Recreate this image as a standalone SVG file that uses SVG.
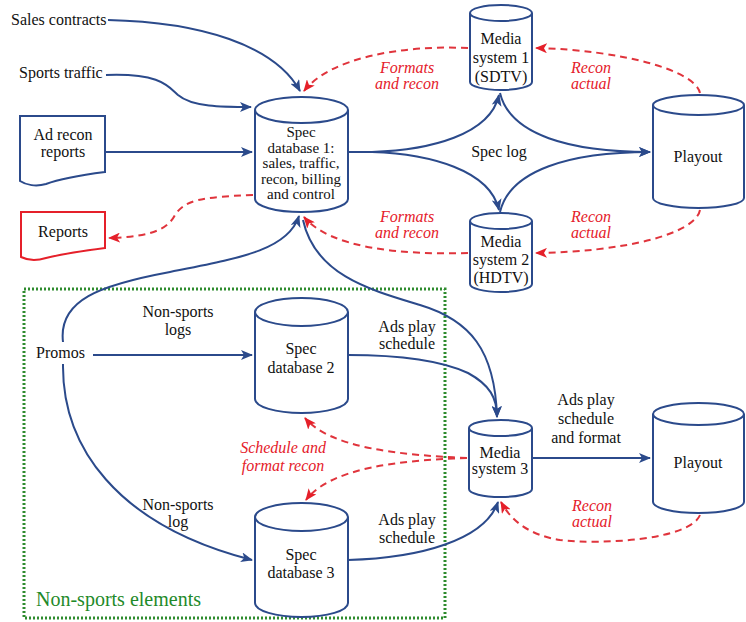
<svg xmlns="http://www.w3.org/2000/svg" width="746" height="622" viewBox="0 0 746 622">
<defs>
<marker id="ab" viewBox="0 0 12 10" refX="11" refY="5" markerWidth="12" markerHeight="10" markerUnits="userSpaceOnUse" orient="auto"><path d="M0,0 L12,5 L0,10 L3,5 z" fill="#2b4a8b"/></marker>
<marker id="ar" viewBox="0 0 12 10" refX="11" refY="5" markerWidth="12" markerHeight="10" markerUnits="userSpaceOnUse" orient="auto"><path d="M0,0 L12,5 L0,10 L3,5 z" fill="#e5202a"/></marker>
</defs>
<rect width="746" height="622" fill="#fff"/>
<rect id="nonsports" x="24" y="289" width="421" height="329" fill="none" stroke="#2e8b2e" stroke-width="3" stroke-dasharray="2 2"/>
<text font-family="Liberation Serif" font-size="20" fill="#1f8a2a" x="36" y="606">Non-sports elements</text>

<g id="connectors">
<g fill="none" stroke="#2b4a8b" stroke-width="2" marker-end="url(#ab)">
<path d="M108,20 C200,22 275,45 300,91"/>
<path d="M106,75 C160,73 168,86 178,95 C192,107 222,107 251,107"/>
<path d="M105,152 H252"/>
<path d="M348,152 H372 C430,150 490,135 499,95"/>
<path d="M348,152 H372 C430,154 490,170 499,210"/>
<path d="M500,93 C510,135 570,152 650,152"/>
<path d="M500,212 C510,170 570,152 650,152"/>
<path d="M63,342 C58,300 100,285 170,272 C240,258 288,250 299,216"/>
<path d="M303,220 C315,275 370,290 420,305 C470,320 495,350 497,417"/>
<path d="M348,355 C400,355 440,360 468,373 C490,385 497,398 497,417"/>
<path d="M93,355 H252"/>
<path d="M63,364 C62,445 115,525 252,560"/>
<path d="M348,560 C420,558 485,540 498,502"/>
<path d="M532,458 H650"/>
</g>
<g fill="none" stroke="#e0343c" stroke-width="2" stroke-dasharray="7 5" marker-end="url(#ar)">
<path d="M253,195 C200,197 185,200 175,215 C165,235 135,237 109,238"/>
<path d="M468,48 C400,45 330,58 304,91"/>
<path d="M700,93 C695,70 620,50 536,48"/>
<path d="M700,210 C695,235 620,252 536,253"/>
<path d="M468,253 C400,255 330,248 304,217"/>
<path d="M467,458 C400,455 330,448 305,418"/>
<path d="M467,458 C400,460 330,468 306,500"/>
<path d="M700,515 C690,540 600,545 560,540 C530,535 512,522 501,502"/>
</g>
</g>

<g font-family="Liberation Serif" font-size="16" fill="#111">
<g id="sales"><text x="11" y="25">Sales contracts</text></g>
<g id="sports"><text x="19" y="78">Sports traffic</text></g>
<g id="promos"><text x="36" y="358">Promos</text></g>
</g>

<g font-family="Liberation Serif" font-size="16" fill="#111" text-anchor="middle" stroke-width="2">
<g id="adrecon">
<path fill="#fff" stroke="#2b4a8b" d="M20,116 H105 V172 C82,175 62,178 46,184 C36,187 26,185 20,181 Z"/>
<text x="63" y="140">Ad recon</text>
<text x="63" y="157">reports</text>
</g>
<g id="reports">
<path fill="#fff" stroke="#e5202a" d="M21,212 H105 V248 C82,251 62,254 46,258 C36,261 27,260 21,257 Z"/>
<text x="63" y="237">Reports</text>
</g>
<g id="db1" font-size="15">
<path fill="#fff" stroke="#2b4a8b" d="M255,110 A46.5,13 0 0 1 348,110 V199 A46.5,13 0 0 1 255,199 Z M255,110 A46.5,13 0 0 0 348,110"/>
<text x="301" y="137">Spec</text>
<text x="301" y="152.5">database 1:</text>
<text x="301" y="168">sales, traffic,</text>
<text x="301" y="183.5">recon, billing</text>
<text x="301" y="199">and control</text>
</g>
<g id="media1">
<path fill="#fff" stroke="#2b4a8b" d="M470,13 A31,8 0 0 1 532,13 V82 A31,8 0 0 1 470,82 Z M470,13 A31,8 0 0 0 532,13"/>
<text x="501" y="44">Media</text>
<text x="501" y="63">system 1</text>
<text x="501" y="82">(SDTV)</text>
</g>
<g id="media2">
<path fill="#fff" stroke="#2b4a8b" d="M470,221 A31,8 0 0 1 532,221 V284 A31,8 0 0 1 470,284 Z M470,221 A31,8 0 0 0 532,221"/>
<text x="501" y="247">Media</text>
<text x="501" y="265">system 2</text>
<text x="501" y="283">(HDTV)</text>
</g>
<g id="playout1">
<path fill="#fff" stroke="#2b4a8b" d="M653,105 A45.5,10 0 0 1 744,105 V198 A45.5,10 0 0 1 653,198 Z M653,105 A45.5,10 0 0 0 744,105"/>
<text x="698" y="162">Playout</text>
</g>
<g id="db2">
<path fill="#fff" stroke="#2b4a8b" d="M255,312 A46.5,14 0 0 1 348,312 V399 A46.5,14 0 0 1 255,399 Z M255,312 A46.5,14 0 0 0 348,312"/>
<text x="301" y="354">Spec</text>
<text x="301" y="373">database 2</text>
</g>
<g id="db3">
<path fill="#fff" stroke="#2b4a8b" d="M255,517 A46.5,14 0 0 1 348,517 V603 A46.5,14 0 0 1 255,603 Z M255,517 A46.5,14 0 0 0 348,517"/>
<text x="301" y="560">Spec</text>
<text x="301" y="578">database 3</text>
</g>
<g id="media3">
<path fill="#fff" stroke="#2b4a8b" d="M469,428 A31.5,8 0 0 1 532,428 V489 A31.5,8 0 0 1 469,489 Z M469,428 A31.5,8 0 0 0 532,428"/>
<text x="500" y="458">Media</text>
<text x="500" y="474">system 3</text>
</g>
<g id="playout2">
<path fill="#fff" stroke="#2b4a8b" d="M653,414 A45.5,11 0 0 1 744,414 V502 A45.5,11 0 0 1 653,502 Z M653,414 A45.5,11 0 0 0 744,414"/>
<text x="698" y="468">Playout</text>
</g>

<g id="labels">
<text x="499" y="157">Spec log</text>
<text x="178" y="317">Non-sports</text>
<text x="178" y="335">logs</text>
<text x="407" y="332">Ads play</text>
<text x="407" y="349">schedule</text>
<text x="178" y="510">Non-sports</text>
<text x="178" y="527">log</text>
<text x="407" y="525">Ads play</text>
<text x="407" y="543">schedule</text>
<text x="586" y="405">Ads play</text>
<text x="586" y="424">schedule</text>
<text x="586" y="443">and format</text>
<g fill="#e5202a" font-style="italic">
<text x="407" y="73">Formats</text>
<text x="407" y="89">and recon</text>
<text x="591" y="73">Recon</text>
<text x="591" y="89">actual</text>
<text x="407" y="222">Formats</text>
<text x="407" y="238">and recon</text>
<text x="591" y="222">Recon</text>
<text x="591" y="238">actual</text>
<text x="283" y="453">Schedule and</text>
<text x="283" y="471">format recon</text>
<text x="592" y="511">Recon</text>
<text x="592" y="527">actual</text>
</g>
</g>
</g>
</svg>
